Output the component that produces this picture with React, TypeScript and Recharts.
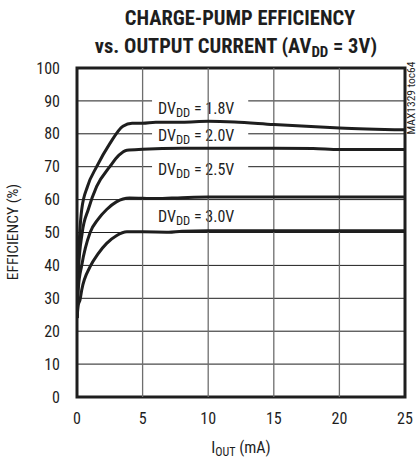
import React from "react";
import {
  LineChart,
  Line,
  XAxis,
  YAxis,
  CartesianGrid,
  ReferenceArea,
  ReferenceLine,
} from "recharts";

// ---- data (I_OUT in mA, efficiency in %) ----
const iout18 = [0, 0.1, 0.36, 0.8, 1.5, 2.5, 3.5, 4.2, 5, 6, 8, 10, 12, 15, 20, 25];
const eff18 = [24, 40, 57, 64, 70, 77, 82.3, 83.2, 83.2, 83.5, 83.5, 83.8, 83.6, 82.8, 81.8, 81.2];

const iout20 = [0, 0.1, 0.4, 0.86, 1.5, 2.5, 3.2, 3.8, 5, 8, 10, 15, 18, 20, 25];
const eff20 = [24, 38, 50, 57, 64, 70, 73.5, 75, 75.3, 75.6, 75.6, 75.6, 75.5, 75.2, 75.2];

const iout25 = [0, 0.1, 0.36, 1, 1.6, 2.26, 3, 4, 6, 8, 10, 15, 20, 25];
const eff25 = [24, 33, 40, 50, 54, 57, 59.3, 60.5, 60.3, 60.6, 60.8, 60.8, 60.8, 60.8];

const iout30 = [0, 0.1, 0.23, 0.36, 1, 1.6, 2.26, 3, 3.8, 5, 7, 8, 10, 15, 25];
const eff30 = [24, 28, 29.5, 32.5, 39.6, 43.5, 46.7, 49, 50.2, 50.2, 50.1, 50.4, 50.5, 50.5, 50.5];

const xTicks = [0, 5, 10, 15, 20, 25];
const yTicks = [0, 10, 20, 30, 40, 50, 60, 70, 80, 90, 100];
const seriesLabels = ["1.8V", "2.0V", "2.5V", "3.0V"];
// label boxes: [x1, x2, yLow, yHigh] in data units
const labelBoxes = [
  [5.72, 13.05, 85.0, 91.0],
  [5.72, 13.05, 76.8, 82.0],
  [5.72, 13.05, 66.3, 71.5],
  [5.72, 13.05, 52.0, 57.2],
];

const zip = (xs: number[], ys: number[]) => xs.map((x, i) => ({ x, y: ys[i] }));
const s18 = zip(iout18, eff18);
const s20 = zip(iout20, eff20);
const s25 = zip(iout25, eff25);
const s30 = zip(iout30, eff30);

const FONT = "'Liberation Sans Narrow', 'Roboto Condensed', 'DejaVu Sans Condensed', 'Liberation Sans', sans-serif";
const INK = "#1e1e1e";

const makeLabel = (text: string) => (props: any) => {
  const vb = props.viewBox || {};
  const x = vb.x + 6;
  const y = vb.y + vb.height - 3.5;
  return (
    <text x={x} y={y} fontFamily={FONT} fontSize={16} fill={INK}>
      <tspan>DV</tspan>
      <tspan fontSize={12.5} dy={3}>DD</tspan>
      <tspan dy={-3}>{` = ${text}`}</tspan>
    </text>
  );
};

export default function App() {
  return (
    <div style={{ position: "absolute", left: 0, top: 0, width: 419, height: 458, background: "#fff" }}>
      <LineChart
        width={419}
        height={458}
        margin={{ top: 68, right: 14, bottom: 31, left: 37 }}
      >
        <CartesianGrid vertical={false} stroke={INK} strokeWidth={1} />
        <XAxis
          type="number"
          dataKey="x"
          domain={[0, 25]}
          ticks={xTicks}
          allowDataOverflow
          axisLine={false}
          tickLine={false}
          tickSize={0}
          tickMargin={16}
          height={30}
          tick={{ fontFamily: FONT, fontSize: 16, fill: INK }}
        />
        <YAxis
          type="number"
          domain={[0, 100]}
          ticks={yTicks}
          axisLine={false}
          tickLine={false}
          tickSize={0}
          tickMargin={17}
          width={40}
          tick={{ fontFamily: FONT, fontSize: 16, fill: INK }}
        />
        {labelBoxes.map((b, i) => (
          <ReferenceArea
            key={"lb" + i}
            x1={b[0]}
            x2={b[1]}
            y1={b[2]}
            y2={b[3]}
            fill="#ffffff"
            fillOpacity={1}
            stroke="none"
            label={makeLabel(seriesLabels[i])}
          />
        ))}
        {[5, 10, 15, 20].map((v) => (
          <ReferenceLine key={"v" + v} x={v} stroke="#6e6e6e" strokeWidth={1.3} />
        ))}
        <Line data={s18} dataKey="y" type="monotone" stroke={INK} strokeWidth={3} dot={false} isAnimationActive={false} />
        <Line data={s20} dataKey="y" type="monotone" stroke={INK} strokeWidth={3} dot={false} isAnimationActive={false} />
        <Line data={s25} dataKey="y" type="monotone" stroke={INK} strokeWidth={3} dot={false} isAnimationActive={false} />
        <Line data={s30} dataKey="y" type="monotone" stroke={INK} strokeWidth={3} dot={false} isAnimationActive={false} />
        <ReferenceArea x1={0} x2={25} y1={0} y2={100} fill="none" stroke={INK} strokeWidth={3} ifOverflow="visible" />
      </LineChart>
      <svg
        width={419}
        height={458}
        style={{ position: "absolute", left: 0, top: 0, pointerEvents: "none" }}
      >
        <text x={240} y={25} textAnchor="middle" fontFamily={FONT} fontWeight="bold" fontSize={20.5} fill={INK}>
          CHARGE-PUMP EFFICIENCY
        </text>
        <text x={236} y={53} textAnchor="middle" fontFamily={FONT} fontWeight="bold" fontSize={20.5} fill={INK}>
          <tspan>vs. OUTPUT CURRENT (AV</tspan>
          <tspan fontSize={15} dy={4}>DD</tspan>
          <tspan dy={-4}> = 3V)</tspan>
        </text>
        <text
          x={0}
          y={0}
          transform="translate(18,232) rotate(-90)"
          textAnchor="middle"
          fontFamily={FONT}
          fontSize={15.5}
          fill={INK}
        >
          EFFICIENCY (%)
        </text>
        <text x={241} y={453} textAnchor="middle" fontFamily={FONT} fontSize={16} fill={INK}>
          <tspan>I</tspan>
          <tspan fontSize={12} dy={3}>OUT</tspan>
          <tspan dy={-3}> (mA)</tspan>
        </text>
        <text
          x={0}
          y={0}
          transform="translate(415,98) rotate(-90)"
          textAnchor="middle"
          fontFamily={FONT}
          fontSize={11.5}
          fill={INK}
        >
          MAX1329 toc64
        </text>
      </svg>
    </div>
  );
}
